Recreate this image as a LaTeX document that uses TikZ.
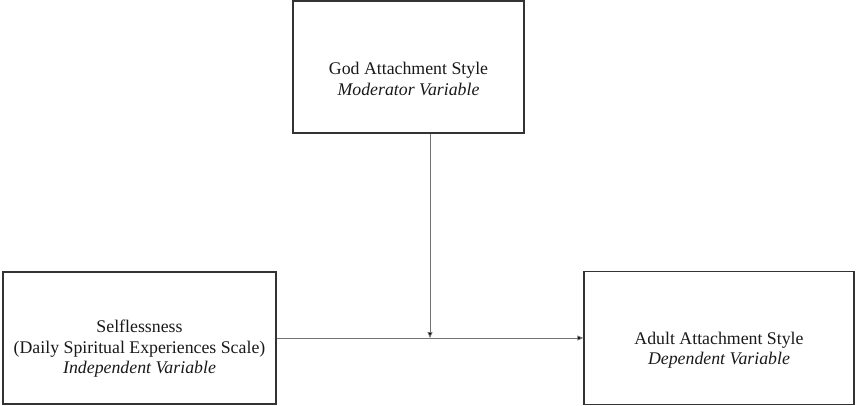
\documentclass[tikz,border=0pt]{standalone}
\usepackage{fontspec}
\setmainfont{Liberation Serif}
\usetikzlibrary{arrows.meta}
\begin{document}
\begin{tikzpicture}[x=1pt,y=-1pt,
  box/.style={draw=black!80,line width=1.4pt,rectangle,inner sep=0pt},
  lbl/.style={align=center,text=black!90,font=\fontsize{17.8}{20.5}\selectfont},
  conn/.style={draw=black!55,line width=0.9pt,-{Triangle[length=6pt,width=5pt,fill=black]}}]
\useasboundingbox (0,0) rectangle (856,406);
\node[box,minimum width=231pt,minimum height=132pt] (top) at (408.5,67) {};
\node[box,minimum width=273pt,minimum height=132pt] (left) at (139.5,338) {};
\node[box,minimum width=270pt,minimum height=133pt] (right) at (719,338) {};
\node[lbl] (toptxt) at (408.5,79) {God Attachment Style\\\textit{Moderator Variable}};
\node[lbl] (lefttxt) at (139.5,349) {Selflessness\\(Daily Spiritual Experiences Scale)\\\textit{Independent Variable}};
\node[lbl] (righttxt) at (719,350) {Adult Attachment Style\\\textit{Dependent Variable}};
\coordinate (j) at (430,338);
\draw[conn] (left.east) -- (right.west);
\draw[conn] (top.south -| j) -- (j);
\end{tikzpicture}
\end{document}
